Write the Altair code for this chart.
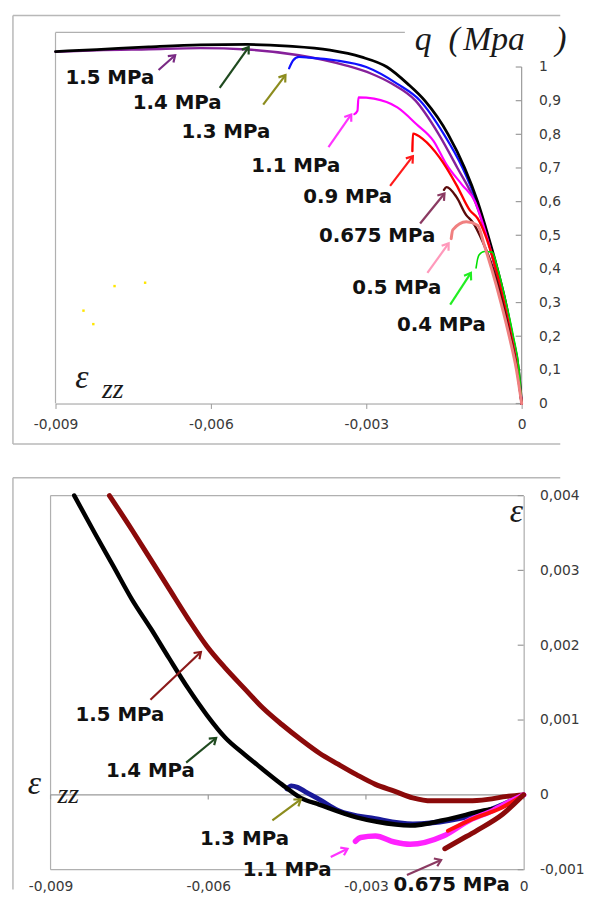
import math
import altair as alt
import pandas as pd

# ---------------- TOP PANEL : q (MPa) versus eps_zz ----------------
top_x_ticks = [-0.009, -0.006, -0.003, 0.0]
top_y_ticks = [0, 0.1, 0.2, 0.3, 0.4, 0.5, 0.6, 0.7, 0.8, 0.9, 1.0]

q15_x = [0, -0.00008, -0.0002, -0.00034, -0.0005, -0.00068, -0.0009, -0.00124, -0.0016, -0.00205,
         -0.0025, -0.0029, -0.0034, -0.0043, -0.0053, -0.0062, -0.0072, -0.0082, -0.009]
q15_y = [0, 0.1, 0.2, 0.3, 0.4, 0.5, 0.6, 0.7, 0.8, 0.9, 0.95, 0.98, 1.005, 1.035, 1.052, 1.056,
         1.053, 1.05, 1.045]
q14_x = [0, -0.00006, -0.00018, -0.00031, -0.00047, -0.00065, -0.00085, -0.0011, -0.00142, -0.00187,
         -0.0022, -0.0026, -0.0031, -0.0037, -0.0045, -0.0053, -0.0062, -0.0072, -0.0082, -0.009]
q14_y = [0, 0.1, 0.2, 0.3, 0.4, 0.5, 0.6, 0.7, 0.8, 0.9, 0.95, 1.0, 1.03, 1.05, 1.062, 1.067, 1.066,
         1.06, 1.052, 1.046]
q13_x = [0, -0.00007, -0.00019, -0.00032, -0.0005, -0.00067, -0.00087, -0.00114, -0.0015, -0.00196,
         -0.0024, -0.003, -0.0036, -0.0041, -0.0043, -0.00441, -0.00449]
q13_y = [0, 0.1, 0.2, 0.3, 0.4, 0.5, 0.6, 0.7, 0.8, 0.9, 0.95, 1.0, 1.02, 1.028, 1.03, 1.02, 0.996]
q11_x = [0, -0.00007, -0.00019, -0.00033, -0.0005, -0.00068, -0.0009, -0.00115, -0.00145, -0.0017,
         -0.00203, -0.0024, -0.00285, -0.00315, -0.00317, -0.00323]
q11_y = [0, 0.1, 0.2, 0.3, 0.4, 0.5, 0.6, 0.65, 0.71, 0.78, 0.83, 0.88, 0.906, 0.91, 0.87, 0.86]
q09_x = [0, -0.00008, -0.0002, -0.00034, -0.0005, -0.0007, -0.00085, -0.001, -0.00126, -0.00158,
         -0.0019, -0.0021, -0.00211]
q09_y = [0, 0.1, 0.2, 0.3, 0.4, 0.5, 0.55, 0.574, 0.65, 0.73, 0.785, 0.802, 0.75]
q0675_x = [0, -0.00009, -0.00022, -0.00037, -0.00055, -0.00075, -0.00095, -0.00107, -0.00126,
           -0.00145, -0.0015]
q0675_y = [0, 0.1, 0.2, 0.3, 0.4, 0.48, 0.54, 0.56, 0.614, 0.643, 0.635]
q05_x = [0, -0.0001, -0.00024, -0.0004, -0.00058, -0.00072, -0.00085, -0.00107, -0.00133, -0.00136]
q05_y = [0, 0.1, 0.2, 0.3, 0.4, 0.47, 0.53, 0.54, 0.516, 0.49]
q04_x = [0, -0.00005, -0.00016, -0.0003, -0.00046, -0.00057, -0.00072, -0.00082, -0.00085, -0.00088]
q04_y = [0, 0.1, 0.2, 0.3, 0.4, 0.45, 0.452, 0.442, 0.43, 0.403]
speck_x = [-0.00727, -0.00786, -0.00846, -0.00827]
speck_y = [0.359, 0.349, 0.276, 0.236]

top_lbl_txt = ["1.5 MPa", "1.4 MPa", "1.3 MPa", "1.1 MPa", "0.9 MPa", "0.675 MPa", "0.5 MPa", "0.4 MPa"]
top_lbl_x = [-0.00795, -0.00665, -0.00571, -0.00436, -0.00336, -0.00279, -0.00241, -0.00155]
top_lbl_y = [0.968, 0.894, 0.806, 0.706, 0.615, 0.497, 0.344, 0.232]
top_arr_tail_x = [-0.00701, -0.00583, -0.00499, -0.00373, -0.00254, -0.00196, -0.00182, -0.00138]
top_arr_tail_y = [0.991, 0.938, 0.888, 0.762, 0.647, 0.535, 0.388, 0.294]
top_arr_tip_x = [-0.00669, -0.00527, -0.00456, -0.00329, -0.0021, -0.00149, -0.00141, -0.00098]
top_arr_tip_y = [1.035, 1.059, 0.976, 0.859, 0.735, 0.624, 0.476, 0.388]
top_arr_col = ["#7a2a84", "#1f4a1f", "#8c8c1e", "#ff33ff", "#ff1a1a", "#8b3a62", "#ff99bb", "#22ee22"]

# ---------------- BOTTOM PANEL : eps (volumetric) versus eps_zz ----------------
bot_x_ticks = [-0.009, -0.006, -0.003, 0.0]
bot_y_ticks = [-0.001, 0.0, 0.001, 0.002, 0.003, 0.004]

e15_x = [0, -0.00032, -0.00068, -0.00104, -0.0014, -0.00175, -0.00211, -0.00246, -0.00282, -0.00318,
         -0.00353, -0.00389, -0.00424, -0.0046, -0.00496, -0.00531, -0.00567, -0.00603, -0.00638,
         -0.00674, -0.00709, -0.00745, -0.00788]
e15_y = [0, -0.00002, -0.00006, -0.00008, -0.00008, -0.00008, -0.00004, 0.00005, 0.00014, 0.00027,
         0.00041, 0.00056, 0.00074, 0.00094, 0.00116, 0.00142, 0.00169, 0.00199, 0.00235,
         0.00275, 0.00314, 0.00354, 0.004]
e14_x = [0, -0.00028, -0.0009, -0.00153, -0.00216, -0.00279, -0.00318, -0.00389, -0.00424, -0.0046,
         -0.00496, -0.00531, -0.00567, -0.00603, -0.00638, -0.00674, -0.00709, -0.00745, -0.0078,
         -0.00816, -0.00855]
e14_y = [0, -0.00012, -0.00023, -0.00034, -0.00041, -0.00036, -0.0003, -0.00013, -0.00004, 0.00014,
         0.00034, 0.00054, 0.00076, 0.00107, 0.00142, 0.00182, 0.00222, 0.00261, 0.00305,
         0.0035, 0.004]
e13_x = [0, -0.00068, -0.0014, -0.00211, -0.00282, -0.00353, -0.00389, -0.00415, -0.0043, -0.00442,
         -0.0045]
e13_y = [0, -0.00021, -0.00034, -0.00039, -0.00032, -0.00021, -0.00006, 0.00004, 0.0001, 0.00012,
         0.00008]
e11_x = [0, -0.0004, -0.00059, -0.00103, -0.00153, -0.00216, -0.00246, -0.00282, -0.0031, -0.0032]
e11_y = [0, -0.00014, -0.00021, -0.00034, -0.00055, -0.00066, -0.00063, -0.00055, -0.00057, -0.00062]
e09_x = [0, -0.00047, -0.0009, -0.00144]
e09_y = [0, -0.00019, -0.0003, -0.00048]
e0675_x = [0, -0.0004, -0.0009, -0.0012, -0.0015]
e0675_y = [0, -0.00026, -0.00048, -0.0006, -0.00072]

bot_lbl_txt = ["1.5 MPa", "1.4 MPa", "1.3 MPa", "1.1 MPa", "0.675 MPa"]
bot_lbl_x = [-0.00768, -0.0071, -0.00531, -0.0045, -0.00137]
bot_lbl_y = [0.00107, 0.00032, -0.00059, -0.00101, -0.00121]
bot_arr_tail_x = [-0.0071, -0.00642, -0.00478, -0.00367, -0.00222]
bot_arr_tail_y = [0.00127, 0.00043, -0.00034, -0.00083, -0.00107]
bot_arr_tip_x = [-0.00614, -0.00585, -0.00424, -0.00335, -0.00157]
bot_arr_tip_y = [0.00191, 0.00076, -0.00006, -0.00072, -0.00087]
bot_arr_col = ["#8b1a1a", "#1f4a1f", "#8c8c1e", "#ff33ff", "#8b3a62"]

# ---------------- layout constants ----------------
W = 478
H_TOP = 372
H_BOT = 378
GRAY = "#9a9a9a"
FRAME = "#b8b8b8"
VPATH = "M -0.7 1 L 0 0 L 0.7 1"

top_xs = alt.Scale(domain=[-0.009, 0], range=[5, 476], nice=False, zero=False)
top_ys = alt.Scale(domain=[0, 1], range=[372, 32], nice=False, zero=False)
top_xa = alt.Axis(values=top_x_ticks, title=None, grid=False, domain=True, domainColor=GRAY,
                  ticks=True, tickColor=GRAY, tickSize=5, labelPadding=9, labelFlush=False,
                  labelOverlap=False, orient="bottom",
                  labelExpr="datum.value == 0 ? '0' : '-0,00' + format(-datum.value*1000, '.0f')")
top_ya = alt.Axis(values=top_y_ticks, title=None, grid=False, domain=False, ticks=False, tickSize=0,
                  labelPadding=15, orient="right", labelFlush=False, labelOverlap=False,
                  labelExpr="datum.value == 0 ? '0' : (datum.value >= 1 ? '1' : '0,' + format(datum.value*10, '.0f'))")

bot_xs = alt.Scale(domain=[-0.009, 0], nice=False, zero=False)
bot_ys = alt.Scale(domain=[-0.001, 0.004], nice=False, zero=False)
bot_xa = alt.Axis(values=bot_x_ticks, title=None, grid=False, domain=False, ticks=False, tickSize=0,
                  labelPadding=10, labelFlush=False, labelOverlap=False, orient="bottom",
                  labelExpr="datum.value == 0 ? '0' : '-0,00' + format(-datum.value*1000, '.0f')")
bot_ya = alt.Axis(values=bot_y_ticks, title=None, grid=False, domain=True, domainColor=GRAY,
                  ticks=False, tickSize=0, labelPadding=16, orient="right", labelFlush=False,
                  labelOverlap=False,
                  labelExpr="datum.value == 0 ? '0' : (datum.value < 0 ? '-' : '') + '0,00' + format(abs(datum.value)*1000, '.0f')")


def XT(f):
    return alt.X(f"{f}:Q", scale=top_xs, axis=top_xa)


def YT(f):
    return alt.Y(f"{f}:Q", scale=top_ys, axis=top_ya)


def XB(f):
    return alt.X(f"{f}:Q", scale=bot_xs, axis=bot_xa)


def YB(f):
    return alt.Y(f"{f}:Q", scale=bot_ys, axis=bot_ya)


one = pd.DataFrame({"k": [0]})


def line(xs, ys, color, w, X, Y):
    df = pd.DataFrame({"x": xs, "y": ys, "i": list(range(len(xs)))})
    return alt.Chart(df).mark_line(color=color, strokeWidth=w, strokeJoin="round", strokeCap="round",
                                   interpolate="monotone").encode(
        x=X("x"), y=Y("y"), order=alt.Order("i:Q"))


def prule(x1, x2, y1, y2, color, w):
    return alt.Chart(one).mark_rule(color=color, strokeWidth=w).encode(
        x=alt.value(x1), x2=alt.value(x2), y=alt.value(y1), y2=alt.value(y2))


def ptext(txt, x, y, size, font="Liberation Serif", style="italic", weight="normal", color="#1a1a1a"):
    return alt.Chart(one).mark_text(text=txt, font=font, fontStyle=style, fontWeight=weight,
                                    fontSize=size, color=color, align="left",
                                    baseline="alphabetic").encode(x=alt.value(x), y=alt.value(y))


def arrows(tx0, ty0, tx1, ty1, cols, sxp, syp, X, Y):
    angs = []
    for a, b, c, d in zip(tx0, ty0, tx1, ty1):
        dx = (c - a) * sxp
        dy = (d - b) * syp
        angs.append(math.degrees(math.atan2(dx, dy)) % 360)
    df = pd.DataFrame({"x": tx0, "y": ty0, "tx": tx1, "ty": ty1, "c": cols, "ang": angs})
    shaft = alt.Chart(df).mark_rule(strokeWidth=2.2).encode(
        x=X("x"), y=Y("y"), x2=alt.X2("tx:Q"), y2=alt.Y2("ty:Q"), color=alt.Color("c:N", scale=None))
    head = alt.Chart(df).mark_point(shape=VPATH, filled=False, size=150, strokeWidth=2.2, opacity=1).encode(
        x=X("tx"), y=Y("ty"), angle=alt.Angle("ang:Q", scale=None), color=alt.Color("c:N", scale=None))
    return [shaft, head]


def labels(txt, xs, ys, X, Y):
    df = pd.DataFrame({"x": xs, "y": ys, "t": txt})
    return alt.Chart(df).mark_text(font="DejaVu Sans", fontWeight="bold", fontSize=20,
                                   color="#111111").encode(x=X("x"), y=Y("y"), text="t:N")


# ---------------- top chart ----------------
top_tick_df = pd.DataFrame({"y": top_y_ticks})
top_layers = [
    prule(-38, -38, -20, 413, FRAME, 1.5),
    prule(-38, 515, -20, -20, FRAME, 1.5),
    prule(-38, 515, 413, 413, FRAME, 1.5),
    prule(5, 5, -3, 372, "#b0b0b0", 1.2),
    prule(5, 358, -3, -3, "#b0b0b0", 1.2),
    prule(476, 476, 32, 372, GRAY, 1.2),
    alt.Chart(top_tick_df).mark_rule(color=GRAY, strokeWidth=1.2).encode(
        y=YT("y"), x=alt.value(470), x2=alt.value(476)),
    line(q15_x, q15_y, "#86209a", 2.4, XT, YT),
    line(q13_x, q13_y, "#1010ff", 2.2, XT, YT),
    line(q14_x, q14_y, "#000000", 2.8, XT, YT),
    line(q11_x, q11_y, "#ff00ff", 2.2, XT, YT),
    line(q09_x, q09_y, "#ff0000", 2.4, XT, YT),
    line(q0675_x, q0675_y, "#5a0a0a", 2.4, XT, YT),
    line(q04_x, q04_y, "#00e000", 1.6, XT, YT),
    line(q05_x, q05_y, "#f08080", 3.0, XT, YT),
    alt.Chart(pd.DataFrame({"x": speck_x, "y": speck_y})).mark_square(
        color="#ffe600", size=6, opacity=1).encode(x=XT("x"), y=YT("y")),
    labels(top_lbl_txt, top_lbl_x, top_lbl_y, XT, YT),
    ptext("q", 368, 15, 34),
    ptext("(", 402, 15, 34),
    ptext("Mpa", 417, 15, 34),
    ptext(")", 510, 15, 34),
    ptext("ε", 25, 356, 34),
    ptext("zz", 52, 366, 28),
]
top_layers += arrows(top_arr_tail_x, top_arr_tail_y, top_arr_tip_x, top_arr_tip_y, top_arr_col,
                     471 / 0.009, 340 / 1.0, XT, YT)
top = alt.layer(*top_layers).properties(width=W, height=H_TOP)

# ---------------- bottom chart ----------------
bot_tick_df = pd.DataFrame({"y": bot_y_ticks})
zero_df = pd.DataFrame({"y": [0.0]})
zero_tick_df = pd.DataFrame({"x": bot_x_ticks, "y": [0.0] * len(bot_x_ticks)})
bot_layers = [
    prule(-38, -38, -18, 398, FRAME, 1.5),
    prule(-38, 515, -18, -18, FRAME, 1.5),
    prule(0, 0, 0, 378, "#b0b0b0", 1.2),
    prule(0, 478, 0, 0, "#b0b0b0", 1.2),
    prule(0, 478, 378, 378, "#b0b0b0", 1.2),
    alt.Chart(zero_df).mark_rule(color=GRAY, strokeWidth=1.2).encode(
        y=YB("y"), x=alt.value(0), x2=alt.value(478)),
    alt.Chart(zero_tick_df).mark_rule(color=GRAY, strokeWidth=1.2).encode(
        x=XB("x"), y=YB("y"), y2=alt.value(307)),
    alt.Chart(bot_tick_df).mark_rule(color=GRAY, strokeWidth=1.2).encode(
        y=YB("y"), x=alt.value(472), x2=alt.value(478)),
    line(e15_x, e15_y, "#8b0a0a", 5.0, XB, YB),
    line(e13_x, e13_y, "#1a1a99", 5.0, XB, YB),
    line(e14_x, e14_y, "#000000", 4.5, XB, YB),
    line(e11_x, e11_y, "#ff22ff", 5.5, XB, YB),
    line(e09_x, e09_y, "#ff1010", 4.0, XB, YB),
    line(e0675_x, e0675_y, "#8b0a0a", 5.0, XB, YB),
    labels(bot_lbl_txt, bot_lbl_x, bot_lbl_y, XB, YB),
    ptext("ε", 464, 27, 34),
    ptext("ε", -23, 302, 34),
    ptext("zz", 7, 311, 28),
]
bot_layers += arrows(bot_arr_tail_x, bot_arr_tail_y, bot_arr_tip_x, bot_arr_tip_y, bot_arr_col,
                     478 / 0.009, 378 / 0.005, XB, YB)
bottom = alt.layer(*bot_layers).properties(width=W, height=H_BOT)

chart = alt.vconcat(top, bottom, spacing=93, bounds="flush").properties(
    padding={"left": 4, "top": 2, "right": 0, "bottom": 0}
).configure_view(stroke=None).configure_axis(
    labelFont="DejaVu Sans", labelFontSize=14, labelColor="#3a3a3a", grid=False
)

chart.save("out.html", embed_options={"renderer": "svg", "actions": False})
